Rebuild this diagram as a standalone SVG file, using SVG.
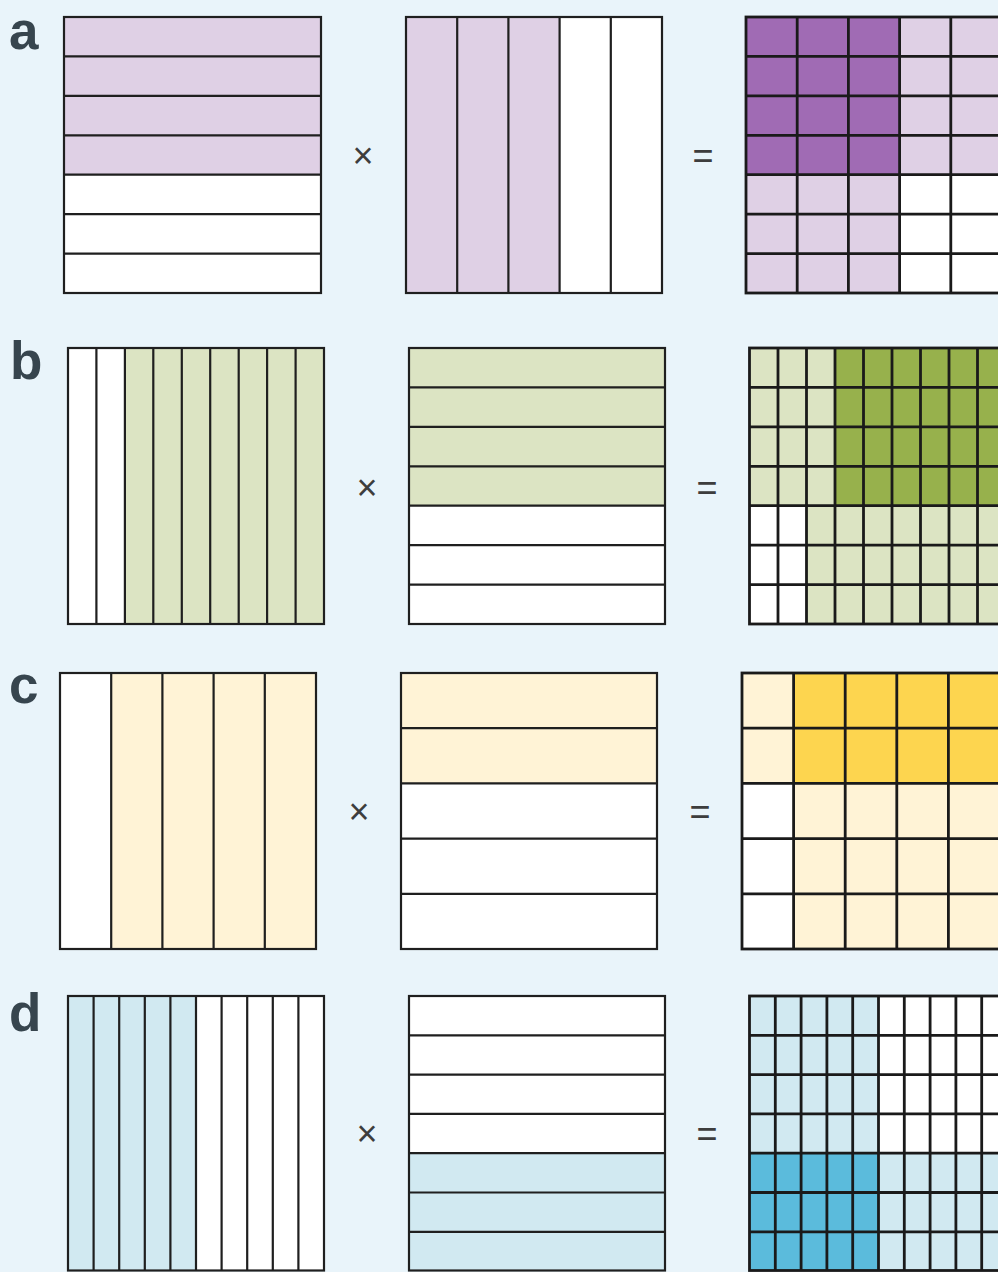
<svg xmlns="http://www.w3.org/2000/svg" width="998" height="1272" viewBox="0 0 998 1272">
<style>
.bg{fill:#e9f4fa}
.lbl{font-family:"Liberation Sans",Arial,sans-serif;font-weight:700;font-size:53px;fill:#37454e}
.op{font-family:"Liberation Sans",Arial,sans-serif;font-size:36px;fill:#3d3d3d;text-anchor:middle;dominant-baseline:central}
.w{fill:#ffffff}
.pl{fill:#dfd0e5}.pd{fill:#a06bb4}
.gl{fill:#dce4c3}.gd{fill:#97b14c}
.yl{fill:#fff3d6}.yd{fill:#fdd54f}
.bl{fill:#d1e9f1}.bd{fill:#5bbbdc}
.f{fill:none;stroke:#1f1f1f;stroke-width:2.2}
.p{fill:none;stroke:#1a1a1a;stroke-width:2.8}
</style>
<rect class="bg" x="0" y="0" width="998" height="1272"/>

<!-- Row a -->
<g id="row-a">
<text class="lbl" x="9" y="48.5">a</text>
<g id="a-left">
<rect class="w" x="64" y="17" width="257" height="276"/>
<rect class="pl" x="64" y="17" width="257" height="157.7"/>
<path class="f" d="M64 56.4H321M64 95.9H321M64 135.3H321M64 174.7H321M64 214.1H321M64 253.6H321"/>
<rect class="f" x="64" y="17" width="257" height="276"/>
</g>
<text class="op" x="363" y="155">×</text>
<g id="a-mid">
<rect class="w" x="406" y="17" width="256" height="276"/>
<rect class="pl" x="406" y="17" width="153.6" height="276"/>
<path class="f" d="M457.2 17V293M508.4 17V293M559.6 17V293M610.8 17V293"/>
<rect class="f" x="406" y="17" width="256" height="276"/>
</g>
<text class="op" x="703" y="155">=</text>
<g id="a-right">
<rect class="w" x="746" y="17" width="260" height="276"/>
<rect class="pd" x="746" y="17" width="153.6" height="157.7"/>
<rect class="pl" x="899.6" y="17" width="106" height="157.7"/>
<rect class="pl" x="746" y="174.7" width="153.6" height="118.3"/>
<path class="p" d="M797.2 17V293M848.4 17V293M899.6 17V293M950.8 17V293M746 56.4H1006M746 95.9H1006M746 135.3H1006M746 174.7H1006M746 214.1H1006M746 253.6H1006"/>
<rect class="p" x="746" y="17" width="256" height="276"/>
</g>
</g>

<!-- Row b -->
<g id="row-b">
<text class="lbl" x="10" y="379">b</text>
<g id="b-left">
<rect class="w" x="68" y="348" width="256" height="276"/>
<rect class="gl" x="124.9" y="348" width="199.1" height="276"/>
<path class="f" d="M96.4 348V624M124.9 348V624M153.3 348V624M181.8 348V624M210.2 348V624M238.7 348V624M267.1 348V624M295.6 348V624"/>
<rect class="f" x="68" y="348" width="256" height="276"/>
</g>
<text class="op" x="367" y="487">×</text>
<g id="b-mid">
<rect class="w" x="409" y="348" width="256" height="276"/>
<rect class="gl" x="409" y="348" width="256" height="157.7"/>
<path class="f" d="M409 387.4H665M409 426.9H665M409 466.3H665M409 505.7H665M409 545.1H665M409 584.6H665"/>
<rect class="f" x="409" y="348" width="256" height="276"/>
</g>
<text class="op" x="707" y="487">=</text>
<g id="b-right">
<rect class="w" x="749.5" y="348" width="260" height="276"/>
<rect class="gl" x="749.5" y="348" width="85.5" height="157.7"/>
<rect class="gd" x="835" y="348" width="175" height="157.7"/>
<rect class="gl" x="806.5" y="505.7" width="203" height="118.3"/>
<path class="p" d="M778 348V624M806.5 348V624M835 348V624M863.5 348V624M892 348V624M920.5 348V624M949 348V624M977.5 348V624M749.5 387.4H1010M749.5 426.9H1010M749.5 466.3H1010M749.5 505.7H1010M749.5 545.1H1010M749.5 584.6H1010"/>
<rect class="p" x="749.5" y="348" width="256.5" height="276"/>
</g>
</g>

<!-- Row c -->
<g id="row-c">
<text class="lbl" x="9" y="703">c</text>
<g id="c-left">
<rect class="w" x="60" y="673" width="256" height="276"/>
<rect class="yl" x="111.2" y="673" width="204.8" height="276"/>
<path class="f" d="M111.2 673V949M162.4 673V949M213.6 673V949M264.8 673V949"/>
<rect class="f" x="60" y="673" width="256" height="276"/>
</g>
<text class="op" x="359" y="811">×</text>
<g id="c-mid">
<rect class="w" x="401" y="673" width="256" height="276"/>
<rect class="yl" x="401" y="673" width="256" height="110.4"/>
<path class="f" d="M401 728.2H657M401 783.4H657M401 838.6H657M401 893.8H657"/>
<rect class="f" x="401" y="673" width="256" height="276"/>
</g>
<text class="op" x="700" y="811">=</text>
<g id="c-right">
<rect class="w" x="742" y="673" width="260" height="276"/>
<rect class="yl" x="742" y="673" width="51.6" height="110.4"/>
<rect class="yd" x="793.6" y="673" width="210" height="110.4"/>
<rect class="yl" x="793.6" y="783.4" width="210" height="165.6"/>
<path class="p" d="M793.6 673V949M845.2 673V949M896.8 673V949M948.4 673V949M742 728.2H1004M742 783.4H1004M742 838.6H1004M742 893.8H1004"/>
<rect class="p" x="742" y="673" width="258" height="276"/>
</g>
</g>

<!-- Row d -->
<g id="row-d">
<text class="lbl" x="9" y="1031">d</text>
<g id="d-left">
<rect class="w" x="68" y="996" width="256" height="274.5"/>
<rect class="bl" x="68" y="996" width="128" height="274.5"/>
<path class="f" d="M93.6 996V1270.5M119.2 996V1270.5M144.8 996V1270.5M170.4 996V1270.5M196 996V1270.5M221.6 996V1270.5M247.2 996V1270.5M272.8 996V1270.5M298.4 996V1270.5"/>
<rect class="f" x="68" y="996" width="256" height="274.5"/>
</g>
<text class="op" x="367" y="1133">×</text>
<g id="d-mid">
<rect class="w" x="409" y="996" width="256" height="274.5"/>
<rect class="bl" x="409" y="1153.2" width="256" height="117.3"/>
<path class="f" d="M409 1035.3H665M409 1074.6H665M409 1113.9H665M409 1153.2H665M409 1192.5H665M409 1231.8H665"/>
<rect class="f" x="409" y="996" width="256" height="274.5"/>
</g>
<text class="op" x="707" y="1133">=</text>
<g id="d-right">
<rect class="w" x="749.5" y="996" width="260" height="274.5"/>
<rect class="bl" x="749.5" y="996" width="129" height="157.2"/>
<rect class="bd" x="749.5" y="1153.2" width="129" height="117.3"/>
<rect class="bl" x="878.5" y="1153.2" width="131" height="117.3"/>
<path class="p" d="M775.3 996V1270.5M801.1 996V1270.5M826.9 996V1270.5M852.7 996V1270.5M878.5 996V1270.5M904.3 996V1270.5M930.1 996V1270.5M955.9 996V1270.5M981.7 996V1270.5M749.5 1035.3H1010M749.5 1074.6H1010M749.5 1113.9H1010M749.5 1153.2H1010M749.5 1192.5H1010M749.5 1231.8H1010"/>
<rect class="p" x="749.5" y="996" width="258" height="274.5"/>
</g>
</g>
</svg>
